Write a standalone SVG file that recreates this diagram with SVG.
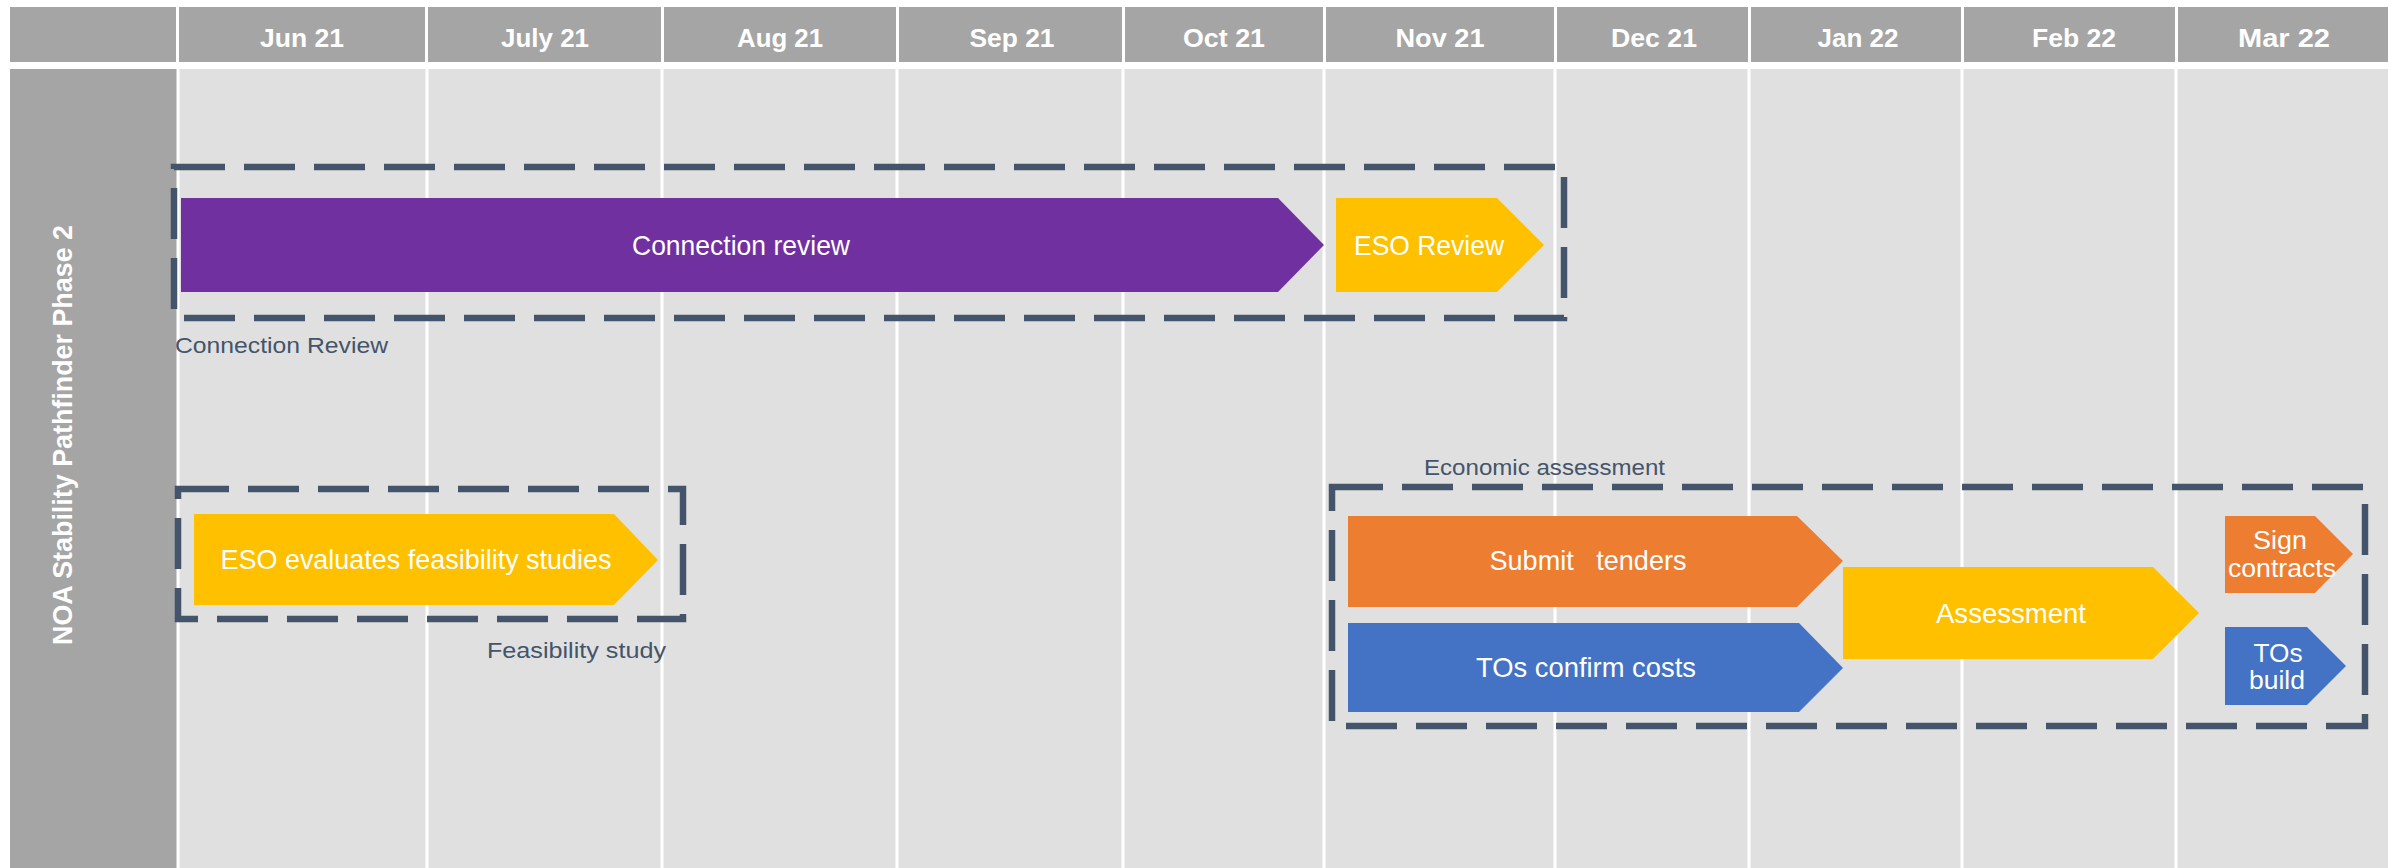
<svg xmlns="http://www.w3.org/2000/svg" width="2389" height="868" viewBox="0 0 2389 868">
<style>
.hdr{fill:#A5A5A5}
.body{fill:#E0E0E0}
.grid{stroke:#FFFFFF;stroke-width:3}
.htxt{font-family:"Liberation Sans",Arial,sans-serif;font-weight:bold;font-size:25px;fill:#FFFFFF;text-anchor:middle}
.box{fill:none;stroke:#44546A;stroke-width:6.5;stroke-dasharray:51 19}
.lbl{font-family:"Liberation Sans",Arial,sans-serif;font-size:22px;fill:#44546A}
.atxt{font-family:"Liberation Sans",Arial,sans-serif;font-size:28px;fill:#FFFFFF;text-anchor:middle}
.stxt{font-family:"Liberation Sans",Arial,sans-serif;font-size:26px;fill:#FFFFFF;text-anchor:middle}
.purple{fill:#7030A0}
.yellow{fill:#FFC000}
.orange{fill:#ED7D31}
.blue{fill:#4472C4}
</style>
<rect x="0" y="0" width="2389" height="868" fill="#FFFFFF"/>
<g id="header">
<rect class="hdr" x="10" y="7" width="166" height="55"/>
<rect class="hdr" x="179" y="7" width="246" height="55"/>
<rect class="hdr" x="428" y="7" width="233" height="55"/>
<rect class="hdr" x="664" y="7" width="232" height="55"/>
<rect class="hdr" x="899" y="7" width="223" height="55"/>
<rect class="hdr" x="1125" y="7" width="198" height="55"/>
<rect class="hdr" x="1326" y="7" width="228" height="55"/>
<rect class="hdr" x="1557" y="7" width="191" height="55"/>
<rect class="hdr" x="1751" y="7" width="210" height="55"/>
<rect class="hdr" x="1964" y="7" width="211" height="55"/>
<rect class="hdr" x="2178" y="7" width="210" height="55"/>
<text class="htxt" x="302" y="47" textLength="84" lengthAdjust="spacingAndGlyphs">Jun 21</text>
<text class="htxt" x="545" y="47" textLength="88" lengthAdjust="spacingAndGlyphs">July 21</text>
<text class="htxt" x="780" y="47" textLength="86" lengthAdjust="spacingAndGlyphs">Aug 21</text>
<text class="htxt" x="1012" y="47" textLength="85" lengthAdjust="spacingAndGlyphs">Sep 21</text>
<text class="htxt" x="1224" y="47" textLength="82" lengthAdjust="spacingAndGlyphs">Oct 21</text>
<text class="htxt" x="1440" y="47" textLength="89" lengthAdjust="spacingAndGlyphs">Nov 21</text>
<text class="htxt" x="1654" y="47" textLength="86" lengthAdjust="spacingAndGlyphs">Dec 21</text>
<text class="htxt" x="1858" y="47" textLength="81" lengthAdjust="spacingAndGlyphs">Jan 22</text>
<text class="htxt" x="2074" y="47" textLength="84" lengthAdjust="spacingAndGlyphs">Feb 22</text>
<text class="htxt" x="2284" y="47" textLength="92" lengthAdjust="spacingAndGlyphs">Mar 22</text>
</g>
<g id="grid">
<rect class="hdr" x="10" y="69" width="167" height="799"/>
<rect class="body" x="177" y="69" width="2211" height="799"/>
<line class="grid" x1="178" y1="69" x2="178" y2="868"/>
<line class="grid" x1="427" y1="69" x2="427" y2="868"/>
<line class="grid" x1="662" y1="69" x2="662" y2="868"/>
<line class="grid" x1="897" y1="69" x2="897" y2="868"/>
<line class="grid" x1="1123" y1="69" x2="1123" y2="868"/>
<line class="grid" x1="1324" y1="69" x2="1324" y2="868"/>
<line class="grid" x1="1555" y1="69" x2="1555" y2="868"/>
<line class="grid" x1="1749" y1="69" x2="1749" y2="868"/>
<line class="grid" x1="1962" y1="69" x2="1962" y2="868"/>
<line class="grid" x1="2176" y1="69" x2="2176" y2="868"/>
<text transform="translate(72,645) rotate(-90)" font-family="'Liberation Sans',Arial,sans-serif" font-weight="bold" font-size="27" fill="#FFFFFF" textLength="420" lengthAdjust="spacingAndGlyphs">NOA Stability Pathfinder Phase 2</text>
</g>
<g id="group-connection-review">
<rect class="box" x="174" y="167" width="1390" height="151"/>
<text class="lbl" x="175" y="353" textLength="213" lengthAdjust="spacingAndGlyphs">Connection Review</text>
</g>
<g id="node-connection-review">
<polygon class="purple" points="181,198 1278,198 1324,245 1278,292 181,292"/>
<text class="atxt" x="741" y="255" textLength="218" lengthAdjust="spacingAndGlyphs">Connection review</text>
</g>
<g id="node-eso-review">
<polygon class="yellow" points="1336,198 1497,198 1544,245 1497,292 1336,292"/>
<text class="atxt" x="1429" y="255" textLength="150" lengthAdjust="spacingAndGlyphs">ESO Review</text>
</g>
<g id="group-feasibility">
<rect class="box" x="178" y="489" width="505" height="130"/>
<text class="lbl" x="487" y="658" textLength="179" lengthAdjust="spacingAndGlyphs">Feasibility study</text>
</g>
<g id="node-eso-evaluates">
<polygon class="yellow" points="194,514 614,514 658,560 614,605 194,605"/>
<text class="atxt" x="416" y="569" font-size="27" textLength="391" lengthAdjust="spacingAndGlyphs">ESO evaluates feasibility studies</text>
</g>
<g id="group-economic">
<rect class="box" x="1332" y="487" width="1033" height="239"/>
<text class="lbl" x="1424" y="475" textLength="241" lengthAdjust="spacingAndGlyphs">Economic assessment</text>
</g>
<g id="node-submit-tenders">
<polygon class="orange" points="1348,516 1797,516 1843,561 1797,607 1348,607"/>
<text class="atxt" x="1588" y="570" xml:space="preserve" textLength="197" lengthAdjust="spacingAndGlyphs">Submit   tenders</text>
</g>
<g id="node-tos-confirm-costs">
<polygon class="blue" points="1348,623 1799,623 1843,668 1799,712 1348,712"/>
<text class="atxt" x="1586" y="677" textLength="220" lengthAdjust="spacingAndGlyphs">TOs confirm costs</text>
</g>
<g id="node-assessment">
<polygon class="yellow" points="1843,567 2153,567 2199,613 2153,659 1843,659"/>
<text class="atxt" x="2011" y="623" textLength="150" lengthAdjust="spacingAndGlyphs">Assessment</text>
</g>
<g id="node-sign-contracts">
<polygon class="orange" points="2225,516 2315,516 2353,554 2315,593 2225,593"/>
<text class="stxt" x="2280" y="549" textLength="54" lengthAdjust="spacingAndGlyphs">Sign</text>
<text class="stxt" x="2282" y="577" textLength="108" lengthAdjust="spacingAndGlyphs">contracts</text>
</g>
<g id="node-tos-build">
<polygon class="blue" points="2225,627 2307,627 2346,666 2307,705 2225,705"/>
<text class="stxt" x="2278" y="662" textLength="49" lengthAdjust="spacingAndGlyphs">TOs</text>
<text class="stxt" x="2277" y="689" textLength="56" lengthAdjust="spacingAndGlyphs">build</text>
</g>
<g id="connectors"></g>
</svg>
